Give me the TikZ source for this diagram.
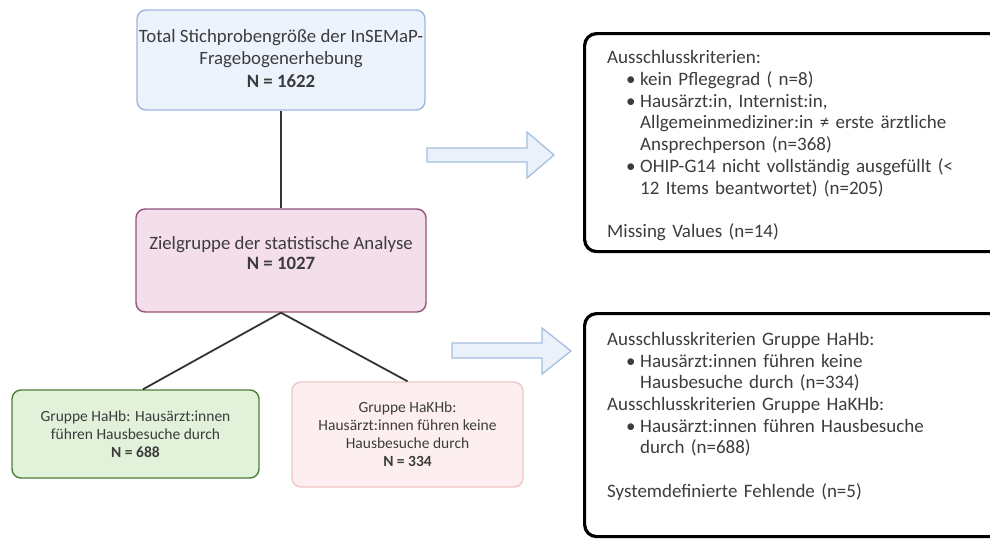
\documentclass[tikz,border=0pt]{standalone}
\usepackage{fontspec}
\setmainfont{Carlito}
\usetikzlibrary{calc}
\definecolor{txt}{HTML}{3C3C3C}
\definecolor{bluefill}{HTML}{EDF3FC}
\definecolor{bluedraw}{HTML}{9EB7DE}
\definecolor{maufill}{HTML}{F3DEEA}
\definecolor{maudraw}{HTML}{92557A}
\definecolor{greenfill}{HTML}{E1F1DA}
\definecolor{greendraw}{HTML}{4F7F35}
\definecolor{rosefill}{HTML}{FDEFEF}
\definecolor{rosedraw}{HTML}{F2C5C5}
\definecolor{arrfill}{HTML}{EAF1FB}
\definecolor{arrdraw}{HTML}{A6BEE2}
\newcommand{\itm}{\hspace*{19pt}\makebox[14pt][l]{\textbullet}}
\newcommand{\cnt}{\hspace*{33pt}}
\begin{document}
\begin{tikzpicture}[x=1pt,y=-1pt,
  bigbox/.style={draw, rounded corners=9pt, line width=1.4pt, inner sep=0pt,
    align=center, text=txt, font=\fontsize{18.8}{22.5}\selectfont},
  smallbox/.style={draw, rounded corners=9pt, line width=1.4pt, inner sep=0pt,
    align=center, text=txt, font=\fontsize{15.5}{18}\selectfont},
  critframe/.style={draw=black, rounded corners=12pt, line width=3.2pt, anchor=north west,
    inner sep=0pt, minimum width=460pt},
  crittext/.style={anchor=north west, inner sep=0pt, text width=400pt, align=left, text=txt,
    font=\fontsize{19}{21.7}\selectfont},
  link/.style={draw=black!80, line width=1.8pt},
  blockarrow/.style={fill=arrfill, draw=arrdraw, line width=1.3pt, line join=miter}
]
\useasboundingbox (0,0) rectangle (990,538);
\clip (0,0) rectangle (990,538);

\node[bigbox, fill=bluefill, draw=bluedraw, minimum width=288pt, minimum height=100pt] (total) at (281,60)
  {\raisebox{22pt}{\begin{tabular}{@{}c@{}}Total Stichprobengröße der InSEMaP-\\Fragebogenerhebung\\\textbf{N = 1622}\end{tabular}}};

\node[bigbox, fill=maufill, draw=maudraw, minimum width=290pt, minimum height=103pt] (ziel) at (281,260.5)
  {\raisebox{27pt}{\fontsize{18.8}{20.8}\selectfont\begin{tabular}{@{}c@{}}Zielgruppe der statistische Analyse\\\textbf{N = 1027}\end{tabular}}};

\node[smallbox, fill=greenfill, draw=greendraw, minimum width=247pt, minimum height=88pt] (hahb) at (135.5,434)
  {Gruppe HaHb: Hausärzt:innen\\führen Hausbesuche durch\\\textbf{N = 688}};

\node[smallbox, fill=rosefill, draw=rosedraw, minimum width=231pt, minimum height=105pt] (hakhb) at (407.5,434.5)
  {Gruppe HaKHb:\\Hausärzt:innen führen keine\\Hausbesuche durch\\\textbf{N = 334}};

\draw[link] (total.south) -- (ziel.north);
\draw[link] (ziel.south) -- ($(hahb.north west)!0.53!(hahb.north east)$);
\draw[link] (ziel.south) -- (hakhb.north);

\node[critframe, minimum height=218pt] (krit1box) at (583,32) {};
\node[crittext] (krit1) at ($(krit1box.north west)+(24,18.5)$)
  {Ausschlusskriterien:\\
   \itm kein Pflegegrad ( n=8)\\
   \itm Hausärzt:in, Internist:in,\\
   \cnt Allgemeinmediziner:in ≠ erste ärztliche\\
   \cnt Ansprechperson (n=368)\\
   \itm OHIP-G14 nicht vollständig ausgefüllt (<\\
   \cnt 12 Items beantwortet) (n=205)\\[21.5pt]
   Missing Values (n=14)};

\node[critframe, minimum height=223pt] (krit2box) at (583,312) {};
\node[crittext] (krit2) at ($(krit2box.north west)+(24,20)$)
  {Ausschlusskriterien Gruppe HaHb:\\
   \itm Hausärzt:innen führen keine\\
   \cnt Hausbesuche durch (n=334)\\
   Ausschlusskriterien Gruppe HaKHb:\\
   \itm Hausärzt:innen führen Hausbesuche\\
   \cnt durch (n=688)\\[21.5pt]
   Systemdefinierte Fehlende (n=5)};

\draw[blockarrow] (427,148) -- (527,148) -- (527,132) -- (554,155) -- (527,178) -- (527,162) -- (427,162) -- cycle;
\draw[blockarrow] (452,343) -- (542,343) -- (542,328) -- (571,351) -- (542,374) -- (542,358) -- (452,358) -- cycle;
\end{tikzpicture}
\end{document}
